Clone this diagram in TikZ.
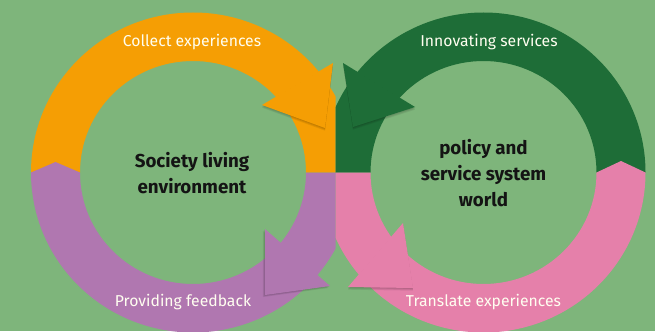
\documentclass[tikz,border=0pt]{standalone}
\usepackage{fontspec}
\setmainfont{Fira Sans}
\begin{document}
\begin{tikzpicture}[x=1bp,y=1bp]
\definecolor{bggreen}{RGB}{126,181,123}
\definecolor{ringorange}{RGB}{245,158,4}
\definecolor{ringgreen}{RGB}{30,109,55}
\definecolor{ringpurple}{RGB}{176,119,176}
\definecolor{ringpink}{RGB}{229,128,170}
\tikzset{
  cyclelabel/.style={text=white!94!yellow, font=\fontsize{15.8}{18}\selectfont, inner sep=0pt},
  hubtext/.style={font=\bfseries\fontsize{18.8}{26}\selectfont, align=center, text=black!92, inner sep=0pt},
  headshadow/.style={fill=black, opacity=0.07},
  outerring/.style={x radius=162, y radius=160},
  innerring/.style={x radius=113, y radius=111.5}
}
% background and page size
\fill[bggreen] (0,0) rectangle (655,331);
\useasboundingbox (0,0) rectangle (655,331);

\coordinate (L) at (193,158.5);
\coordinate (R) at (483.5,158.5);

% left cycle: society living environment
\begin{scope}
  \clip (0,0) rectangle (335.5,331);
  \fill[ringorange] (L) ++(-162,0) arc[start angle=180, end angle=0, outerring]
    -- ++(-49,0) arc[start angle=0, end angle=180, innerring] -- cycle;
  \fill[ringpurple] (L) ++(162,0) arc[start angle=0, end angle=-180, outerring]
    -- ++(24.5,10.5) -- ++(24.5,-10.5) arc[start angle=180, end angle=360, innerring] -- cycle;
  % arrowheads with soft shadows
  \foreach \d in {1,2,3} {
    \fill[headshadow] ([yshift=-\d*0.9]333,268) -- ([yshift=-\d*0.9]262,226) -- ([yshift=-\d*0.9]325,203) -- cycle;
    \fill[headshadow] ([shift={(-\d*0.7,-\d*0.7)}]265,102) -- ([shift={(-\d*0.7,-\d*0.7)}]330,45) -- ([shift={(-\d*0.7,-\d*0.7)}]265,36) -- cycle;
  }
  \fill[ringorange] (333,268) -- (262,226) -- (325,203) -- cycle;
  \fill[ringpurple] (265,102) -- (330,45) -- (265,36) -- cycle;
\end{scope}

% right cycle: policy and service system world
\begin{scope}
  \clip (335.5,0) rectangle (655,331);
  \fill[ringgreen] (R) ++(-162,0) arc[start angle=180, end angle=0, outerring]
    -- ++(-49,0) arc[start angle=0, end angle=180, innerring] -- cycle;
  \fill[ringpink] (R) ++(-162,0) arc[start angle=180, end angle=360, outerring]
    -- ++(-24.5,11.5) -- ++(-24.5,-11.5) arc[start angle=0, end angle=-180, innerring] -- cycle;
  % arrowheads with soft shadows
  \foreach \d in {1,2,3} {
    \fill[headshadow] ([yshift=-\d*0.9]343,268) -- ([yshift=-\d*0.9]415,224) -- ([yshift=-\d*0.9]353,204) -- cycle;
    \fill[headshadow] ([yshift=-\d*0.9]403,108) -- ([yshift=-\d*0.9]348,44) -- ([yshift=-\d*0.9]413,43) -- cycle;
  }
  \fill[ringgreen] (343,268) -- (415,224) -- (353,204) -- cycle;
  \fill[ringpink] (403,108) -- (348,44) -- (413,43) -- cycle;
\end{scope}

% labels
\node[cyclelabel] (collect) at (192,289) {Collect experiences};
\node[cyclelabel] (innovate) at (489,289) {Innovating services};
\node[cyclelabel] (feedback) at (183,29) {Providing feedback};
\node[cyclelabel] (translate) at (483.5,29) {Translate experiences};
\node[hubtext] (society) at (192,158) {Society living\\environment};
\node[hubtext] (policy) at (483.5,158) {policy and\\service system\\world};
\end{tikzpicture}
\end{document}
